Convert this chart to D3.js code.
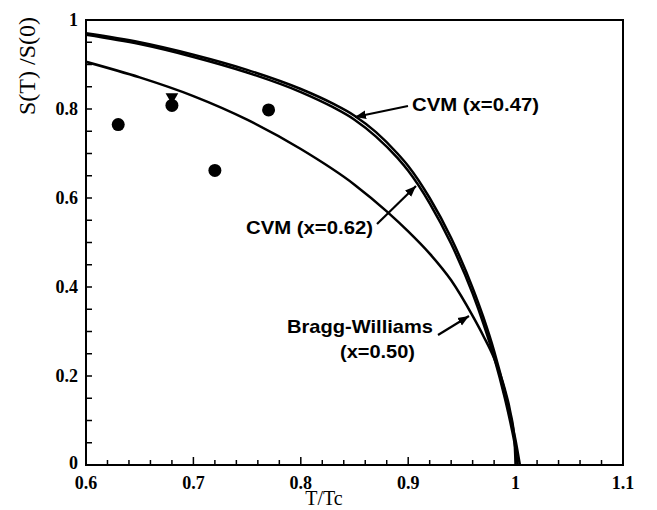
<!DOCTYPE html>
<html><head><meta charset="utf-8">
<script src="https://cdn.jsdelivr.net/npm/d3@7"></script>
<style>body{margin:0;background:#fff}svg{display:block}</style>
</head><body><svg id="c" width="657" height="510"></svg>
<script>
const xTicks = [0.6, 0.7, 0.8, 0.9, 1, 1.1];
const xTickLabels = ["0.6", "0.7", "0.8", "0.9", "1", "1.1"];
const yTicks = [0, 0.2, 0.4, 0.6, 0.8, 1];
const yTickLabels = ["0", "0.2", "0.4", "0.6", "0.8", "1"];

const cvm047T = [0.60, 0.65, 0.70, 0.75, 0.80, 0.83, 0.85, 0.87, 0.89, 0.90, 0.92, 0.94, 0.96, 0.97, 0.98, 0.99, 0.995, 1.000, 1.004];
const cvm047S = [0.970, 0.950, 0.922, 0.888, 0.845, 0.812, 0.785, 0.748, 0.700, 0.672, 0.600, 0.510, 0.398, 0.332, 0.256, 0.165, 0.112, 0.055, 0];
const cvm062T = [0.60, 0.65, 0.70, 0.75, 0.80, 0.83, 0.85, 0.87, 0.89, 0.90, 0.92, 0.94, 0.96, 0.97, 0.98, 0.99, 0.995, 1.000, 1.002];
const cvm062S = [0.967, 0.946, 0.917, 0.882, 0.838, 0.804, 0.776, 0.738, 0.690, 0.661, 0.588, 0.497, 0.385, 0.318, 0.242, 0.150, 0.097, 0.035, 0];
const bwT = [0.60, 0.65, 0.70, 0.75, 0.80, 0.85, 0.88, 0.90, 0.92, 0.94, 0.96, 0.97, 0.98, 0.99, 0.995, 0.999, 1.000];
const bwS = [0.906, 0.871, 0.829, 0.776, 0.710, 0.630, 0.570, 0.525, 0.475, 0.415, 0.335, 0.290, 0.240, 0.170, 0.120, 0.055, 0];

const circleT = [0.63, 0.68, 0.72, 0.77];
const circleS = [0.765, 0.808, 0.662, 0.798];
const triT = [0.68];
const triS = [0.827];

const labels = ["CVM (x=0.47)", "CVM (x=0.62)", "Bragg-Williams", "(x=0.50)"];

const svg = d3.select("#c");
const L = 86, R = 623, T = 20, B = 465;
const x = d3.scaleLinear().domain([0.6, 1.1]).range([L, R]);
const y = d3.scaleLinear().domain([0, 1]).range([B, T]);

// minor ticks
const g = svg.append("g");
const xMinor = d3.range(0.6, 1.1001, 0.02);
const yMinor = d3.range(0, 1.0001, 0.05);
g.selectAll(".xm").data(xMinor).join("line")
  .attr("x1", d => x(d)).attr("x2", d => x(d))
  .attr("y1", B).attr("y2", d => B - (Math.abs(Math.round(d*10) - d*10) < 1e-6 ? 8 : 5))
  .attr("stroke", "#000").attr("stroke-width", 1.5);
g.selectAll(".ym").data(yMinor).join("line")
  .attr("y1", d => y(d)).attr("y2", d => y(d))
  .attr("x1", L).attr("x2", d => L + 6)
  .attr("stroke", "#000").attr("stroke-width", 1.5);

// frame
svg.append("rect").attr("x", L).attr("y", T).attr("width", R - L).attr("height", B - T)
  .attr("fill", "none").attr("stroke", "#000").attr("stroke-width", 2);

// tick labels
svg.selectAll(".xl").data(xTicks).join("text")
  .attr("x", d => x(d)).attr("y", 489).attr("text-anchor", "middle")
  .attr("font-family", "Liberation Serif").attr("font-weight", "bold").attr("font-size", 18)
  .text((d, i) => xTickLabels[i]);
svg.selectAll(".yl").data(yTicks).join("text")
  .attr("x", 78).attr("y", d => y(d) + (d === 0 ? 4 : 6)).attr("text-anchor", "end")
  .attr("font-family", "Liberation Serif").attr("font-weight", "bold").attr("font-size", 18)
  .text((d, i) => yTickLabels[i]);

// axis titles
svg.append("text").attr("x", 324).attr("y", 505).attr("text-anchor", "middle")
  .attr("font-family", "Liberation Serif").attr("font-size", 20).text("T/Tc");
svg.append("text").attr("transform", "translate(35,66) rotate(-90)").attr("text-anchor", "middle")
  .attr("font-family", "Liberation Serif").attr("font-size", 24).text("S(T) /S(0)");

// curves
const line = d3.line().x(d => x(d[0])).y(d => y(d[1])).curve(d3.curveMonotoneX);
svg.append("clipPath").attr("id", "clp").append("rect")
  .attr("x", L).attr("y", T).attr("width", R - L).attr("height", B - T + 1);
const curves = [
  d3.zip(cvm047T, cvm047S),
  d3.zip(cvm062T, cvm062S),
  d3.zip(bwT, bwS)
];
svg.append("g").attr("clip-path", "url(#clp)").selectAll("path").data(curves).join("path")
  .attr("d", line).attr("fill", "none").attr("stroke", "#000").attr("stroke-width", 2.5);

// points
svg.selectAll(".pt").data(d3.zip(circleT, circleS)).join("circle")
  .attr("cx", d => x(d[0])).attr("cy", d => y(d[1])).attr("r", 6.5).attr("fill", "#000");
svg.selectAll(".tri").data(d3.zip(triT, triS)).join("path")
  .attr("transform", d => `translate(${x(d[0])},${y(d[1])}) rotate(180)`)
  .attr("d", d3.symbol(d3.symbolTriangle, 70)).attr("fill", "#000");

// annotations
const ann = svg.append("g").attr("font-family", "Liberation Sans").attr("font-weight", "bold").attr("font-size", 19);
ann.append("text").attr("x", 412).attr("y", 111).attr("textLength", 127).attr("lengthAdjust", "spacingAndGlyphs").text(labels[0]);
ann.append("text").attr("x", 246).attr("y", 234).attr("textLength", 127).attr("lengthAdjust", "spacingAndGlyphs").text(labels[1]);
ann.append("text").attr("x", 287).attr("y", 333).attr("textLength", 146).attr("lengthAdjust", "spacingAndGlyphs").text(labels[2]);
ann.append("text").attr("x", 340).attr("y", 358).attr("textLength", 75).attr("lengthAdjust", "spacingAndGlyphs").text(labels[3]);

svg.append("defs").append("marker").attr("id", "ah").attr("viewBox", "0 0 10 10")
  .attr("refX", 10).attr("refY", 5).attr("markerWidth", 5).attr("markerHeight", 5)
  .attr("orient", "auto").attr("markerUnits", "strokeWidth")
  .append("path").attr("d", "M0,1 L10,5 L0,9 z").attr("fill", "#000");
const arrows = [
  [408, 106, 355, 117],
  [377, 224, 416, 186],
  [438, 335, 469, 316]
];
svg.selectAll(".ar").data(arrows).join("line")
  .attr("x1", d => d[0]).attr("y1", d => d[1]).attr("x2", d => d[2]).attr("y2", d => d[3])
  .attr("stroke", "#000").attr("stroke-width", 2.2).attr("marker-end", "url(#ah)");
</script></body></html>
